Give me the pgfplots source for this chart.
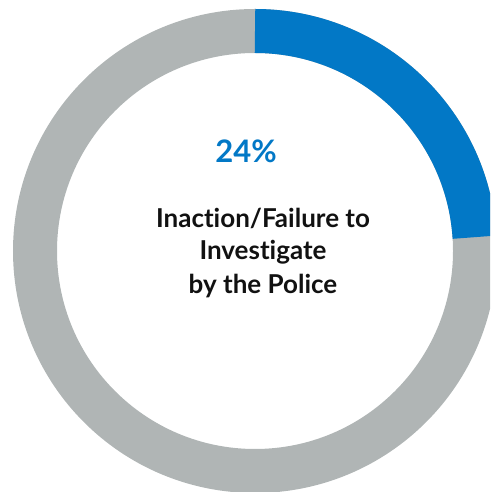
\documentclass[border=0pt]{standalone}
\usepackage{pgfplots}
\pgfplotsset{compat=1.18}
\usepackage{pgfplotstable}
\usepackage{fontspec}
\setmainfont{Lato}[Ligatures={NoCommon,NoDiscretionary}]
\definecolor{donutblue}{HTML}{0278C6}
\definecolor{donutgray}{HTML}{B0B5B5}
\definecolor{txt}{HTML}{111111}
\pgfplotstableread{
label value
Inaction 24
Other 76
}\donutdata
\begin{document}
\begin{tikzpicture}
\pgfplotstablegetelem{0}{value}\of\donutdata
\pgfmathtruncatemacro\blueval{\pgfplotsretval}
\pgfmathsetmacro\endang{90-3.6*\blueval}
\begin{axis}[
  x=1pt, y=1pt,
  xmin=0, xmax=490, ymin=0, ymax=492,
  hide axis,
  clip=true,
  scale only axis,
]
\draw[donutgray, line width=44pt] (axis cs:255,241) circle[radius=220pt];
\draw[donutblue, line width=44pt] (axis cs:255,241) ++(90:220pt) arc[start angle=90, end angle=\endang, radius=220pt];
\node[anchor=base, text=donutblue, font=\fontsize{31}{31}\selectfont\bfseries] at (axis cs:246,329) {\blueval\%};
\node[anchor=base, text=txt, font=\fontsize{26}{26}\selectfont\bfseries] at (axis cs:263,264) {Inaction/Failure to};
\node[anchor=base, text=txt, font=\fontsize{26}{26}\selectfont\bfseries] at (axis cs:263,232) {Investigate};
\node[anchor=base, text=txt, font=\fontsize{26}{26}\selectfont\bfseries] at (axis cs:263,198) {by the Police};
\end{axis}
\pgfresetboundingbox
\path (current axis.south west) rectangle (current axis.north east);
\end{tikzpicture}
\end{document}
